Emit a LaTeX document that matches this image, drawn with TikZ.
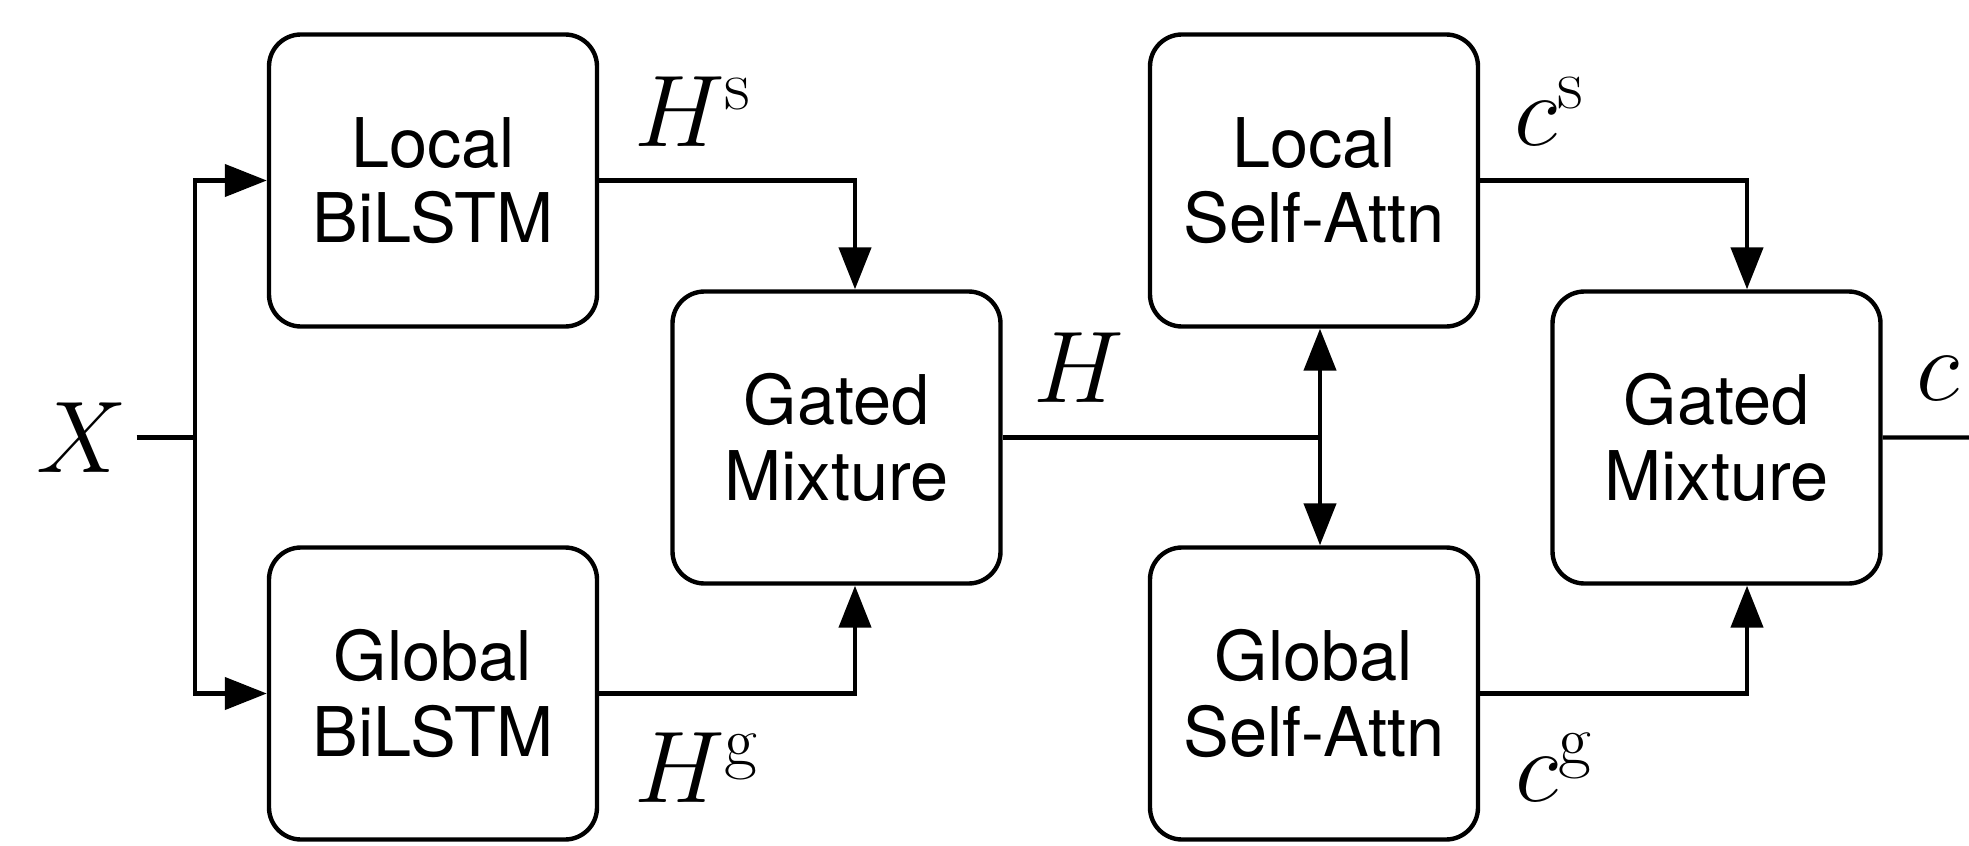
\RequirePackage{fix-cm}
\documentclass[tikz,border=0pt]{standalone}
\usepackage[no-math]{fontspec}
\setmainfont{TeX Gyre Heros}
\usetikzlibrary{arrows.meta}

\begin{document}
\begin{tikzpicture}[
            box/.style={
                draw,
                rounded corners=0.32cm,
                minimum width=3.28cm,
                minimum height=2.92cm,
                align=center,
                font=\fontsize{19.5}{21.5}\selectfont
            },
            lbl/.style={inner sep=2pt, font=\fontsize{29}{34}\selectfont},
            >={Triangle[width=0.32cm, length=0.42cm]},
            line width=1.25pt,
            arrow/.style={->}
        ]
            \useasboundingbox (0,0) rectangle (19.69,8.45);

            % BiLSTM und Mischung
            \node[box] (lb) at (4.33,6.645) {Local\\BiLSTM};
            \node[box] (gb) [below of=lb, node distance=5.13cm] {Global\\BiLSTM};
            \node[box] (gm1) [right of=lb, node distance=4.035cm, yshift=-2.57cm] {Gated\\Mixture};

            % Self-Attention und Mischung
            \node[box] (lsa) [right of=lb, node distance=8.81cm] {Local\\Self-Attn};
            \node[box] (gsa) [below of=lsa, node distance=5.13cm] {Global\\Self-Attn};
            \node[box] (gm2) [right of=gm1, node distance=8.8cm] {Gated\\Mixture};

            % Beschriftungen
            \node[lbl] (x) at (0.82,4.075) {$X$};
            \node[lbl] (hs) at (6.93,7.33) {$H^{\mathrm{s}}$};
            \node[lbl] (hg) at (6.97,0.77) {$H^{\mathrm{g}}$};
            \node[lbl] (h) at (10.79,4.77) {$H$};
            \node[lbl] (cs) at (15.5,7.33) {$c^{\mathrm{s}}$};
            \node[lbl] (cg) at (15.55,0.77) {$c^{\mathrm{g}}$};
            \node[lbl] (c) at (19.38,4.66) {$c$};

            % Hilfspunkte
            \coordinate (split) at (1.95,4.075);
            \coordinate (hj) at ([xshift=0.06cm]lsa.south |- gm1.east);
            \coordinate (out) at (19.69,4.075);

            % Kanten
            \draw (x) -- (split);
            \draw[arrow] (split) |- (lb);
            \draw[arrow] (split) |- (gb);
            \draw[arrow] (lb.east) -| ([xshift=0.185cm]gm1.north);
            \draw[arrow] (gb.east) -| ([xshift=0.185cm]gm1.south);
            \draw (gm1) -- (hj);
            \draw[arrow] (hj) -- ([xshift=0.06cm]lsa.south);
            \draw[arrow] (hj) -- ([xshift=0.06cm]gsa.north);
            \draw[arrow] (lsa.east) -| ([xshift=0.305cm]gm2.north);
            \draw[arrow] (gsa.east) -| ([xshift=0.305cm]gm2.south);
            \draw (gm2) -- (out);
        \end{tikzpicture}
\end{document}
